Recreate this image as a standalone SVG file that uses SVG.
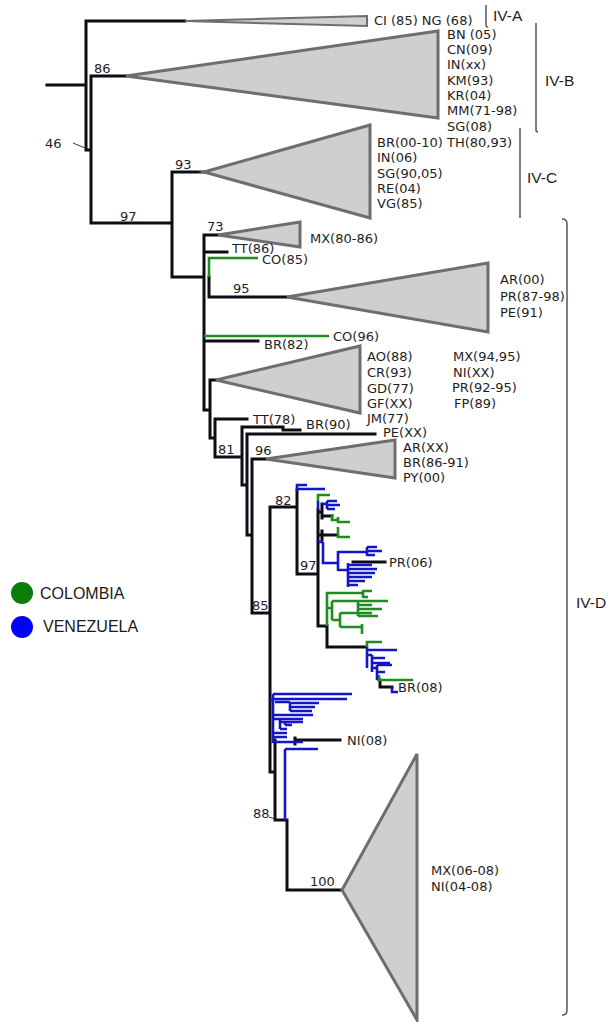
<svg xmlns="http://www.w3.org/2000/svg" width="608" height="1022" viewBox="0 0 608 1022">
<style>
.b{fill:none;stroke:#0d0d14;stroke-width:3;stroke-linecap:square;stroke-linejoin:miter}
.g{fill:none;stroke:#1e8c1e;stroke-width:2.6;stroke-linecap:butt}
.u{fill:none;stroke:#1414c8;stroke-width:2.6;stroke-linecap:butt}
.tri{fill:#cfcfcf;stroke:#6e6e6e;stroke-width:3;stroke-linejoin:miter}
.t{font-family:"DejaVu Sans",sans-serif;font-size:13px;fill:#1e1e1e}
.k{font-family:"Liberation Sans",Arial,sans-serif;font-size:15.5px;fill:#1e1e1e}
.lg{font-family:"Liberation Sans",Arial,sans-serif;font-size:16px;fill:#1a1a1a}
.br{fill:none;stroke:#555;stroke-width:1.5}
</style>
<rect width="608" height="1022" fill="#fff"/>
<g id="connectors">
<path class="b" d="M47,85 H86 M86,21 V150 H91 M86,21 H185 M91,76 V223 M91,76 H126 M91,223 H172 M172,172 V277 M172,172 H204 M172,277 H204 M204,235 V410 H210 M204,235 H218 M204,252 H227 M209,277 V297 H287 M204,341 H258 M210,380 V438 H215 M210,380 H216 M215,419 V457 H242 M215,419 H247 M242,427 V485 H247 M242,427 H283 V430 H300 M247,434 V535 H252 M247,434 H375 M252,459 V613 H270 M252,459 H266 M270,507 V772 H275 M270,507 H296 M297,490 V574 H318 M318,510 V626 H327 V647 H365 M318,512 H322 M322,504 V518 M322,516 H332 M318,535 H337 M322,531 V540 M275,740 V820 H287 V890 H342 M295,740 H340 M295,738 V744 M353,562 H385 M380,680 V687 H392"/>
<path class="g" d="M209,277 V258 H258 M204,336 H329 M318,501 V495 H330 M332,514 V520 H338 M338,517 V522 H350 M338,527 V537 H350 M327,626 V593 H362 M363,590 V598 M363,591 H372 M363,597 H368 M327,608 H332 M332,601 V620 M332,601 H358 M358,601 V616 M358,601 H388 M358,605 H372 M358,609 H382 M358,613 H372 M358,616 H378 M332,620 H340 M340,613 V627 M340,613 H360 M340,627 H362 M362,624 V634 M367,647 V642 H382 M377,680 H413 M379,675 V680"/>
<path class="u" d="M297,491 V485 H307 M297,489 H325 M318,501 V510 M322,504 H327 M327,501 V509 M327,501 H337 M327,505 H340 M327,509 H335 M318,542 H323 M323,542 V563 H338 M338,551 V571 M338,552 H367 M367,547 V556 M367,547 H377 M367,551 H382 M367,555 H375 M338,570 H348 M348,563 V587 M348,565 H372 M348,569 H377 M348,573 H375 M348,577 H372 M348,581 H365 M348,585 H358 M367,647 V668 M367,650 H397 M367,655 H372 M372,655 V672 M372,658 H385 M372,663 H390 M372,668 H377 M377,665 V680 M377,665 H392 M377,672 H385 M392,687 V692 H398 M273,694 V743 M270,700 H273 M273,694 H352 M273,699 H347 M275,702 H290 M290,702 V711 M290,703 H319 M290,707 H315 M290,711 H312 M273,715 H313 M273,719 H280 M280,719 V729 M280,719 H303 M280,722 H285 M285,722 V725 M285,722 H303 M285,725 H292 M280,729 H287 M273,733 H287 M273,737 H287 M273,742 H303 M285,749 V820 M285,749 H318"/>
<path d="M73,143 L85,148" stroke="#333" stroke-width="1" fill="none"/>
<path d="M269,817 L275,819" stroke="#333" stroke-width="1" fill="none"/>
</g>
<g id="bootstrap">
<text class="t" x="94" y="73">86</text>
<text class="t" x="45" y="148">46</text>
<text class="t" x="120" y="221">97</text>
<text class="t" x="175" y="169">93</text>
<text class="t" x="207" y="231">73</text>
<text class="t" x="233" y="293">95</text>
<text class="t" x="218" y="454">81</text>
<text class="t" x="255" y="455">96</text>
<text class="t" x="275" y="505">82</text>
<text class="t" x="300" y="570">97</text>
<text class="t" x="252" y="610">85</text>
<text class="t" x="253" y="818">88</text>
<text class="t" x="310" y="886">100</text>
</g>
<g id="clade-IVA">
<polygon points="185,21 367,16 367,26" fill="#cfcfcf" stroke="#6e6e6e" stroke-width="2"/>
<text class="t" x="374" y="25">CI (85) NG (68)</text>
</g>
<g id="clade-IVB">
<polygon class="tri" points="126,76 438,31 438,118"/>
<text class="t" x="447" y="39">BN (05)</text>
<text class="t" x="447" y="54">CN(09)</text>
<text class="t" x="447" y="69">IN(xx)</text>
<text class="t" x="447" y="85">KM(93)</text>
<text class="t" x="447" y="100">KR(04)</text>
<text class="t" x="447" y="115">MM(71-98)</text>
<text class="t" x="447" y="131">SG(08)</text>
<text class="t" x="447" y="147">TH(80,93)</text>
</g>
<g id="clade-IVC">
<polygon class="tri" points="204,172 370,125 370,218"/>
<text class="t" x="377" y="147">BR(00-10)</text>
<text class="t" x="377" y="162">IN(06)</text>
<text class="t" x="377" y="178">SG(90,05)</text>
<text class="t" x="377" y="193">RE(04)</text>
<text class="t" x="377" y="208">VG(85)</text>
</g>
<g id="clade-73">
<polygon class="tri" points="218,235 300,222 300,247"/>
<text class="t" x="310" y="243">MX(80-86)</text>
</g>
<g id="leaf-TT86"><text class="t" x="232" y="253">TT(86)</text></g>
<g id="leaf-CO85"><text class="t" x="262" y="264">CO(85)</text></g>
<g id="clade-95">
<polygon class="tri" points="287,297 488,263 488,332"/>
<text class="t" x="500" y="284">AR(00)</text>
<text class="t" x="500" y="301">PR(87-98)</text>
<text class="t" x="500" y="317">PE(91)</text>
</g>
<g id="leaf-CO96"><text class="t" x="333" y="341">CO(96)</text></g>
<g id="leaf-BR82"><text class="t" x="264" y="349">BR(82)</text></g>
<g id="clade-AO">
<polygon class="tri" points="216,380 360,346 360,413"/>
<text class="t" x="367" y="361">AO(88)</text>
<text class="t" x="367" y="377">CR(93)</text>
<text class="t" x="367" y="393">GD(77)</text>
<text class="t" x="367" y="408">GF(XX)</text>
<text class="t" x="367" y="423">JM(77)</text>
<text class="t" x="453" y="361">MX(94,95)</text>
<text class="t" x="453" y="377">NI(XX)</text>
<text class="t" x="452" y="392">PR(92-95)</text>
<text class="t" x="454" y="408">FP(89)</text>
</g>
<g id="leaf-TT78"><text class="t" x="253" y="424">TT(78)</text></g>
<g id="leaf-BR90"><text class="t" x="306" y="429">BR(90)</text></g>
<g id="leaf-PEXX"><text class="t" x="383" y="437">PE(XX)</text></g>
<g id="clade-96">
<polygon class="tri" points="266,459 395,440 395,478"/>
<text class="t" x="403" y="452">AR(XX)</text>
<text class="t" x="403" y="467">BR(86-91)</text>
<text class="t" x="403" y="482">PY(00)</text>
</g>
<g id="leaf-PR06"><text class="t" x="389" y="567">PR(06)</text></g>
<g id="leaf-BR08"><text class="t" x="398" y="692">BR(08)</text></g>
<g id="leaf-NI08"><text class="t" x="347" y="745">NI(08)</text></g>
<g id="clade-100">
<polygon class="tri" points="342,890 417,754 417,1020"/>
<text class="t" x="431" y="875">MX(06-08)</text>
<text class="t" x="431" y="891">NI(04-08)</text>
</g>
<g id="groups">
<path class="br" d="M486,5 V25 Q486,27 488,27"/>
<text class="k" x="493" y="21">IV-A</text>
<path class="br" d="M536,23 V130 Q536,132 538,132"/>
<text class="k" x="545" y="86">IV-B</text>
<path class="br" d="M520,128 V218"/>
<text class="k" x="527" y="183">IV-C</text>
<path class="br" d="M562,219 Q567,219 567,224 V1010 Q567,1015 562,1015"/>
<text class="k" x="576" y="608">IV-D</text>
</g>
<g id="legend">
<circle cx="22" cy="593" r="11" fill="#0a7d0a"/>
<text class="lg" x="40" y="599">COLOMBIA</text>
<circle cx="22" cy="627" r="11" fill="#0000ff"/>
<text class="lg" x="43" y="632">VENEZUELA</text>
</g>
</svg>
